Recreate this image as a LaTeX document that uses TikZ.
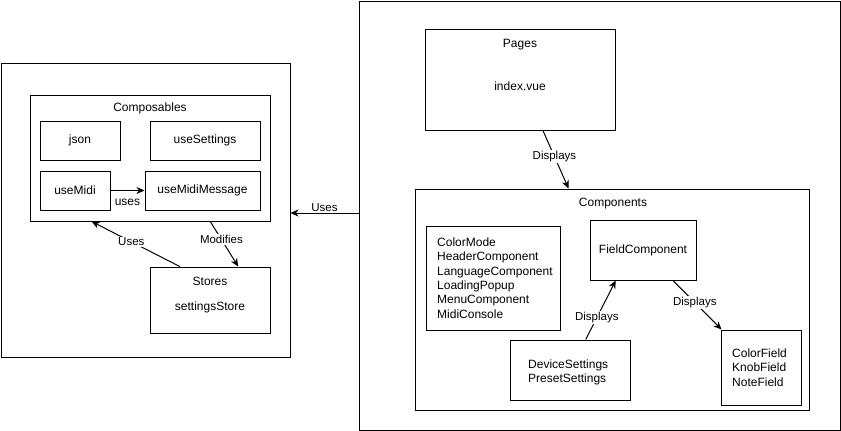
\documentclass[tikz,border=0pt]{standalone}
\usepackage{fontspec}
\setmainfont{Liberation Sans}
\usetikzlibrary{calc,arrows.meta}
\begin{document}
\begin{tikzpicture}[x=1pt,y=-1pt,
  font=\fontsize{12}{14.4}\selectfont,
  box/.style={draw=black,line width=1pt,inner sep=0pt,minimum width=#1},
  txt/.style={inner sep=0pt,align=center},
  ltxt/.style={inner sep=0pt,align=left,anchor=west},
  arr/.style={draw=black,line width=1pt,-{Stealth[length=8pt,width=7pt,inset=2.5pt]}},
  lbl/.style={fill=white,inner sep=1pt,font=\fontsize{11.5}{13}\selectfont}]
\useasboundingbox (0,0) rectangle (841,431);
% left outer
\node[box=289pt,minimum height=294pt] (leftouter) at (145.5,210) {};
\node[box=240pt,minimum height=126pt] (comp) at (150,158) {};
\node[txt] (comptitle) at (150,108) {Composables};
\node[box=80pt,minimum height=39pt] (json) at (80,140.5) {json};
\node[box=110pt,minimum height=39pt] (usesettings) at (205,140.5) {useSettings};
\node[box=70pt,minimum height=39pt] (usemidi) at (75,190.5) {useMidi};
\node[box=115pt,minimum height=39pt] (usemidimsg) at (202.5,190.5) {useMidiMessage};
\node[box=120pt,minimum height=66pt] (stores) at (210,300) {};
\node[txt] (storestitle) at (210,281) {Stores};
\node[txt] (settingsstore) at (210,307) {settingsStore};
% right outer
\node[box=481pt,minimum height=429pt] (rightouter) at (599.5,215.5) {};
\node[box=190pt,minimum height=101pt] (pages) at (520,79.5) {};
\node[txt] (pagestitle) at (520,45) {Pages};
\node[txt] (indexvue) at (520,86) {index.vue};
\node[box=394pt,minimum height=221pt] (components) at (612,299.5) {};
\node[txt] (comptitle2) at (613,204) {Components};
\node[box=134pt,minimum height=104pt] (list) at (493,278) {};
\node[ltxt] (listtxt) at (437,278) {ColorMode\\HeaderComponent\\LanguageComponent\\LoadingPopup\\MenuComponent\\MidiConsole};
\node[box=106pt,minimum height=60pt] (field) at (643,250) {FieldComponent};
\node[box=120pt,minimum height=60pt] (device) at (570,370) {};
\node[ltxt] (devicetxt) at (528,372.5) {DeviceSettings\\PresetSettings};
\node[box=80pt,minimum height=75pt] (fields) at (761,367.5) {};
\node[ltxt] (fieldstxt) at (732,367.5) {ColorField\\KnobField\\NoteField};
% connectors
\draw[arr] (usemidi.east) -- node[below=8pt,inner sep=0pt,font=\fontsize{12}{14}\selectfont] {uses} (usemidimsg.west);
\draw[arr] ($(stores.north west)!0.25!(stores.north east)$) -- node[lbl,pos=0.55] {Uses} ($(comp.south west)!0.258!(comp.south east)$);
\draw[arr] ($(comp.south west)!0.75!(comp.south east)$) -- node[lbl,pos=0.4] {Modifies} ($(stores.north west)!0.733!(stores.north east)$);
\coordinate (usesstart) at ($(rightouter.west)+(0,-2.5)$);
\draw[arr] (usesstart) -- node[lbl,pos=0.5,yshift=5pt,inner sep=0.5pt] {Uses} (usesstart -| leftouter.east);
\draw[arr] ($(pages.south west)!0.62!(pages.south east)$) -- node[lbl,pos=0.45] {Displays} ($(components.north west)!0.39!(components.north east)$);
\draw[arr] ($(device.north west)!0.63!(device.north east)$) -- node[lbl,pos=0.37] {Displays} ($(field.south west)!0.245!(field.south east)$);
\draw[arr] ($(field.south west)!0.78!(field.south east)$) -- node[lbl,pos=0.45] {Displays} ($(fields.north west)+(1,0)$);
\end{tikzpicture}
\end{document}
